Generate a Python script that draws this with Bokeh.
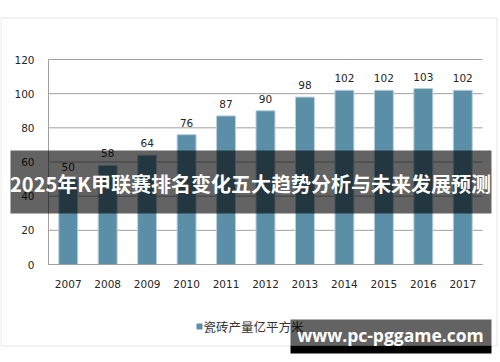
from bokeh.plotting import figure
from bokeh.models import (ColumnDataSource, BoxAnnotation, Label, FixedTicker,
                          LinearAxis, Range1d)
from bokeh.core.properties import value
from bokeh.embed import file_html
from bokeh.resources import INLINE

# ---- data ----
years = ["2007", "2008", "2009", "2010", "2011", "2012", "2013", "2014", "2015", "2016", "2017"]
output = [50, 58, 64, 76, 87, 90, 98, 102, 102, 103, 102]
series_name = "瓷砖产量亿平方米"
title_text = "2025年K甲联赛排名变化五大趋势分析与未来发展预测"
watermark_text = "www.pc-pggame.com"
y_ticks = [0, 20, 40, 60, 80, 100, 120]

BAR = "#5b8fa7"
GRID = "#a0a0a0"
TXT = "#262626"

W, H = 500, 362
# plot area (pixels on canvas) of the original chart
PL, PR, PT, PB = 48, 482, 59, 264
n = len(years)
xs = list(range(n))
ppx = (PR - PL) / n                      # pixels per category
ppy = (PB - PT) / (y_ticks[-1] - y_ticks[0])
x_start = -0.5 - PL / ppx
x_end = n - 0.5 + (W - PR) / ppx
y_start = y_ticks[0] - (H - PB) / ppy
y_end = y_ticks[-1] + PT / ppy

src = ColumnDataSource(dict(x=xs, val=output, lab=[str(v) for v in output]))

p = figure(width=W, height=H,
           x_range=Range1d(x_start, x_end), y_range=Range1d(y_start, y_end),
           x_axis_location=None, y_axis_location=None,
           output_backend="svg", toolbar_location=None)
p.min_border = 0
p.outline_line_color = None
p.background_fill_color = "white"
p.border_fill_color = "white"
p.xgrid.visible = False
p.ygrid.visible = False

# gridlines across the plot area
p.segment(x0=[-0.5] * len(y_ticks), x1=[n - 0.5] * len(y_ticks),
          y0=y_ticks, y1=y_ticks, line_color=GRID, line_width=1)

p.vbar(x="x", top="val", width=0.48, source=src,
       fill_color=BAR, line_color="#b9d0dc", line_width=1)

p.text(x="x", y="val", text="lab", source=src, y_offset=-8,
       text_align="center", text_baseline="bottom",
       text_font=value("DejaVu Sans"), text_font_size="10.5px", text_color=TXT)

# axes
yax = LinearAxis(fixed_location=-0.5, bounds=(y_ticks[0], y_ticks[-1]),
                 ticker=FixedTicker(ticks=y_ticks))
yax.major_tick_line_color = None
yax.minor_tick_line_color = None
yax.axis_line_color = GRID
yax.major_label_standoff = 8
yax.major_label_text_font = "DejaVu Sans"
yax.major_label_text_font_size = "10.5px"
yax.major_label_text_color = TXT
p.add_layout(yax, "left")

xax = LinearAxis(fixed_location=y_ticks[0], bounds=(-0.5, n - 0.5),
                 ticker=FixedTicker(ticks=xs),
                 major_label_overrides={i: y for i, y in zip(xs, years)})
xax.major_tick_line_color = None
xax.minor_tick_line_color = None
xax.axis_line_color = GRID
xax.major_label_standoff = 9
xax.major_label_text_font = "DejaVu Sans"
xax.major_label_text_font_size = "10.5px"
xax.major_label_text_color = TXT
p.add_layout(xax, "below")

C = dict(left_units="canvas", right_units="canvas", top_units="canvas", bottom_units="canvas")

# outer chart border
p.add_layout(BoxAnnotation(left=0.5, right=496.5, top=17.5, bottom=345.5, **C,
                           fill_color=None, fill_alpha=0,
                           line_color="#a6a6a6", line_width=1))

# legend
p.add_layout(BoxAnnotation(left=196, right=202, top=323, bottom=329, **C,
                           fill_color=BAR, fill_alpha=1, line_color=None))
p.add_layout(Label(x=203, y=326, x_units="canvas", y_units="canvas",
                   text=series_name, text_font="Noto Sans CJK SC",
                   text_font_size="12.5px", text_color="#333333",
                   text_baseline="middle", text_align="left"))

# title band overlay
p.add_layout(BoxAnnotation(left=10, right=491, top=150, bottom=213, **C,
                           fill_color="black", fill_alpha=0.61, line_color=None))
p.add_layout(Label(x=250, y=183, x_units="canvas", y_units="canvas",
                   text=title_text, text_font="Noto Sans CJK SC",
                   text_font_style="bold", text_font_size="20px",
                   text_color="white", text_align="center", text_baseline="middle"))

# watermark
p.add_layout(BoxAnnotation(left=290, right=491, top=319, bottom=345, **C,
                           fill_color="black", fill_alpha=0.61, line_color=None))
p.add_layout(BoxAnnotation(left=290, right=491, top=345, bottom=353, **C,
                           fill_color="black", fill_alpha=1, line_color=None))
p.add_layout(Label(x=390, y=334, x_units="canvas", y_units="canvas",
                   text=watermark_text, text_font="Open Sans",
                   text_font_style="bold", text_font_size="17.5px",
                   text_color="white", text_align="center", text_baseline="middle"))

open("out.html", "w").write(file_html(p, INLINE))
